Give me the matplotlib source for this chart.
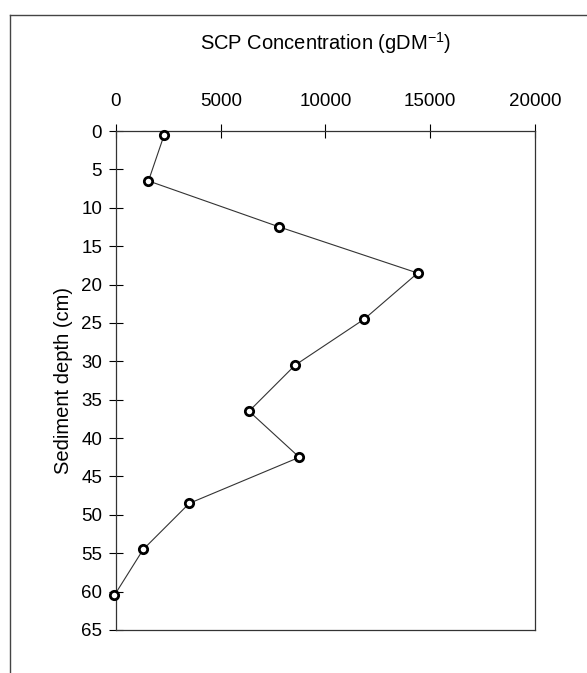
import numpy as np
import matplotlib.pyplot as plt
from matplotlib.lines import Line2D

plt.rcParams['font.family'] = ['Liberation Sans', 'DejaVu Sans']

# SCP concentration profile down the core
depth_cm = [0.5, 6.5, 12.5, 18.5, 24.5, 30.5, 36.5, 42.5, 48.5, 54.5, 60.5]
scp_conc = [2300, 1550, 7800, 14400, 11850, 8550, 6350, 8750, 3500, 1300, -80]

x_ticks = [0, 5000, 10000, 15000, 20000]
y_ticks = list(range(0, 70, 5))

fig = plt.figure(figsize=(5.87, 6.73), dpi=100)
ax = fig.add_axes([0.1976, 0.0639, 0.9114 - 0.1976, 0.8053 - 0.0639])

ax.plot(scp_conc, depth_cm, '-', color='#333333', linewidth=0.8,
        marker='o', markersize=6, markerfacecolor='white',
        markeredgecolor='black', markeredgewidth=2, clip_on=False, zorder=3)

ax.set_xlim(0, 20000)
ax.set_ylim(65, 0)
ax.xaxis.tick_top()
ax.xaxis.set_label_position('top')
ax.set_xticks(x_ticks)
ax.set_yticks(y_ticks)
ax.tick_params(axis='both', direction='inout', length=10, width=0.8,
               labelsize=13.5, colors='black', pad=5)
ax.tick_params(axis='x', pad=10)

for side in ['top', 'bottom', 'left', 'right']:
    ax.spines[side].set_linewidth(0.9)
    ax.spines[side].set_color('#333333')

ax.set_xlabel('SCP Concentration (gDM$^{\\mathregular{-1}}$)', fontsize=14.5, labelpad=31)
ax.set_ylabel('Sediment depth (cm)', fontsize=14.5, labelpad=6)

# outer frame lines (top and left)
fig.add_artist(Line2D([10 / 587, 1.0], [1 - 15 / 673, 1 - 15 / 673],
                      transform=fig.transFigure, color='#444444', linewidth=1.0))
fig.add_artist(Line2D([10 / 587, 10 / 587], [1 - 15 / 673, 0.0],
                      transform=fig.transFigure, color='#444444', linewidth=1.0))

fig.savefig('out.png', dpi=100)
